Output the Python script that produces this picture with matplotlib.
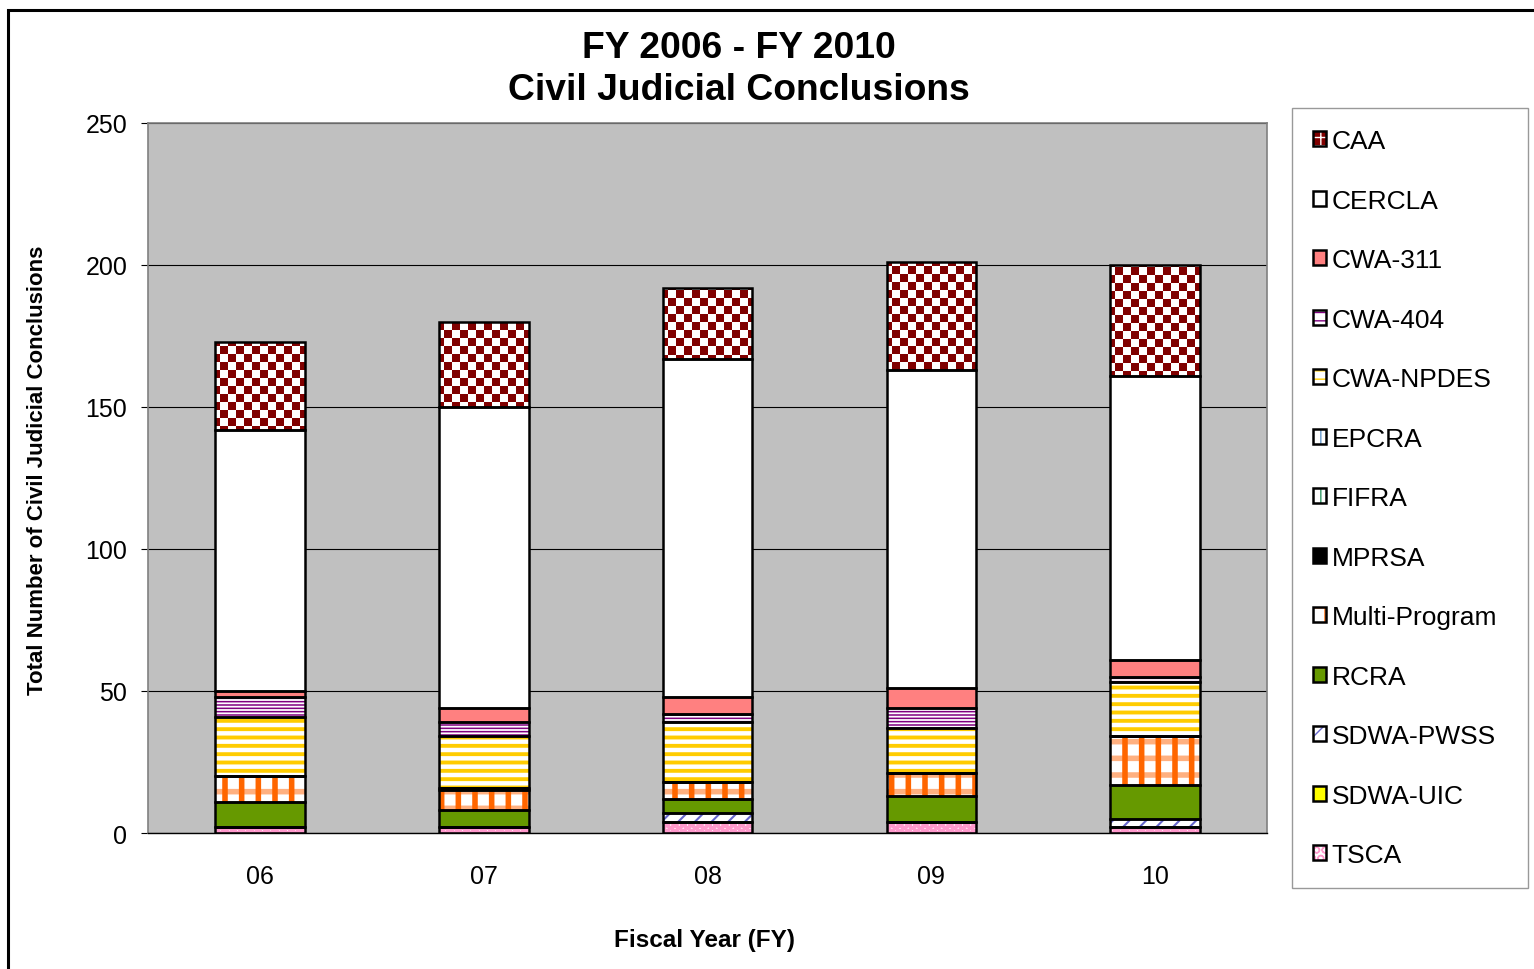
import matplotlib
matplotlib.use('Agg')
import matplotlib.pyplot as plt
import numpy as np
from matplotlib.patches import Patch, Rectangle
from matplotlib.colors import ListedColormap

plt.rcParams['font.family'] = ['Liberation Sans', 'DejaVu Sans']

# fiscal years and counts per program (stacked bottom to top)
years = ['06', '07', '08', '09', '10']
tsca = [2, 2, 4, 4, 2]
sdwa_uic = [0, 0, 0, 0, 0]
sdwa_pwss = [0, 0, 3, 0, 3]
rcra = [9, 6, 5, 9, 12]
multi = [9, 7, 6, 8, 17]
mprsa = [0, 1, 0, 0, 0]
fifra = [0, 0, 0, 0, 0]
epcra = [0, 0, 0, 0, 0]
cwa_npdes = [21, 18, 21, 16, 19]
cwa_404 = [7, 5, 3, 7, 2]
cwa_311 = [2, 5, 6, 7, 6]
cercla = [92, 106, 119, 112, 100]
caa = [31, 30, 25, 38, 39]

stack_names = ['TSCA', 'SDWA-UIC', 'SDWA-PWSS', 'RCRA', 'Multi-Program', 'MPRSA',
               'FIFRA', 'EPCRA', 'CWA-NPDES', 'CWA-404', 'CWA-311', 'CERCLA', 'CAA']
stack_vals = [tsca, sdwa_uic, sdwa_pwss, rcra, multi, mprsa,
              fifra, epcra, cwa_npdes, cwa_404, cwa_311, cercla, caa]

# face, hatch layers [(hatch, color, lw)]
styles = {
    'TSCA': ('white', [('OO', '#FF99CC', 2.5)]),
    'SDWA-UIC': ('#FFFF00', []),
    'SDWA-PWSS': ('white', [('//', '#6666CC', 1.5)]),
    'RCRA': ('#669900', []),
    'Multi-Program': ('white', [('-', '#FFB080', 4.0), ('|', '#FF6600', 4.0)]),
    'MPRSA': ('black', []),
    'FIFRA': ('white', [('||', '#339966', 3.0)]),
    'EPCRA': ('white', [('|||', '#6699CC', 1.5)]),
    'CWA-NPDES': ('white', [('--', '#FFCC00', 2.8)]),
    'CWA-404': ('white', [('-----', '#800080', 1.1)]),
    'CWA-311': ('#FF8080', []),
    'CERCLA': ('white', []),
    'CAA': ('white', []),
}


def set_hlw(patches, lw):
    for p in patches:
        if hasattr(p, 'set_hatch_linewidth'):
            p.set_hatch_linewidth(lw)


fig = plt.figure(figsize=(15.34, 9.70), dpi=100)
ax = fig.add_axes([0.0965, 0.1402, 0.7295, 0.7320])
ax.set_facecolor('#C0C0C0')

x = np.arange(len(years))
w = 0.40
bottom = np.zeros(len(years))
caa_bars = None
for name, vals in zip(stack_names, stack_vals):
    vals = np.array(vals, dtype=float)
    face, layers = styles[name]
    ax.bar(x, vals, w, bottom=bottom, color=face, linewidth=0, zorder=2)
    for h, hc, hlw in layers:
        with plt.rc_context({'hatch.linewidth': hlw}):
            b = ax.bar(x, vals, w, bottom=bottom, facecolor='none', edgecolor=hc,
                       hatch=h, linewidth=0, zorder=2.2)
        set_hlw(b, hlw)
    if name == 'CAA':
        caa_bars = ax.bar(x, vals, w, bottom=bottom, facecolor='none', linewidth=0, zorder=2.3)
    ax.bar(x, vals, w, bottom=bottom, facecolor='none', edgecolor='black',
           linewidth=1.8, zorder=3)
    bottom += vals

# checkerboard fill for CAA
ny, nx = 89, 140
checker = np.add.outer(np.arange(ny), np.arange(nx)) % 2
cmap = ListedColormap(['white', '#800000'])
for p in caa_bars:
    im = ax.imshow(checker, extent=(-0.5, 4.5, 0, 250), cmap=cmap,
                   interpolation='nearest', aspect='auto', zorder=2.5)
    im.set_clip_path(p)

ax.set_xlim(-0.5, 4.5)
ax.set_ylim(0, 250)
ax.set_yticks([0, 50, 100, 150, 200, 250])
ax.set_xticks(x)
ax.set_xticklabels(years)
ax.yaxis.grid(True, color='black', linewidth=0.8, zorder=1)
ax.set_axisbelow(True)
ax.tick_params(axis='x', length=0, pad=22, labelsize=18)
ax.tick_params(axis='y', length=5, width=0.8, pad=10, labelsize=18)
for s in ['top', 'right', 'left']:
    ax.spines[s].set_color('#808080')
    ax.spines[s].set_linewidth(1.2)
ax.spines['bottom'].set_color('black')
ax.spines['bottom'].set_linewidth(1.0)

fig.text(0.4818, 1 - 48 / 970, 'FY 2006 - FY 2010', ha='center', va='center',
         fontsize=26.8, fontweight='bold')
fig.text(0.4818, 1 - 91 / 970, 'Civil Judicial Conclusions', ha='center', va='center',
         fontsize=26.8, fontweight='bold')
fig.text(704 / 1534, 1 - 941 / 970, 'Fiscal Year (FY)', ha='center', va='center',
         fontsize=17.5, fontweight='bold')
fig.text(38 / 1534, 1 - 470 / 970, 'Total Number of Civil Judicial Conclusions',
         ha='center', va='center', rotation=90, fontsize=16, fontweight='bold')

# legend
legend_order = ['CAA', 'CERCLA', 'CWA-311', 'CWA-404', 'CWA-NPDES', 'EPCRA', 'FIFRA',
                'MPRSA', 'Multi-Program', 'RCRA', 'SDWA-PWSS', 'SDWA-UIC', 'TSCA']
handles = []
for name in legend_order:
    face, layers = styles[name]
    parts = [Patch(facecolor=face, linewidth=0)]
    if name == 'CAA':
        parts = [Patch(facecolor='#800000', edgecolor='white', hatch='++', linewidth=0)]
    for h, hc, hlw in layers:
        parts.append(Patch(facecolor='none', edgecolor=hc, hatch=h[:2], linewidth=0))
    parts.append(Patch(facecolor='none', edgecolor='black', linewidth=1.8))
    handles.append(tuple(parts))

leg = fig.legend(handles, legend_order, loc='upper left', mode='expand',
                 bbox_to_anchor=(1292 / 1534, 1 - 109 / 970, 236 / 1534, 0.0),
                 borderaxespad=0, fontsize=19, handlelength=0.5, handleheight=0.5,
                 handletextpad=0.2, labelspacing=1.345, borderpad=0.8,
                 fancybox=False, frameon=True)
leg.get_frame().set_edgecolor('#808080')
leg.get_frame().set_linewidth(1.0)

# outer chart border
fig.patches.append(Rectangle((8 / 1534, -0.1), 1.2, 1 - 11 / 970 + 0.1,
                             transform=fig.transFigure, fill=False,
                             edgecolor='black', linewidth=2.2))

fig.savefig('out.png', dpi=100)
